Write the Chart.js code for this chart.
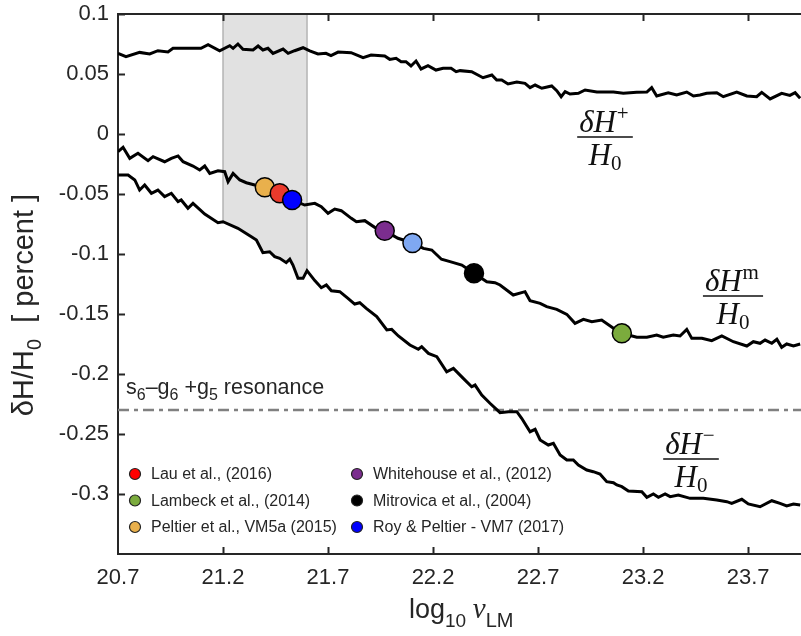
<!DOCTYPE html>
<html>
<head>
<meta charset="utf-8">
<script src="https://cdn.jsdelivr.net/npm/chart.js@4.4.1/dist/chart.umd.min.js"></script>
<style>
  html, body { margin: 0; padding: 0; background: #fff; }
  #wrap { width: 801px; height: 636px; }
</style>
</head>
<body>
<div id="wrap"><canvas id="chart" width="801" height="636"></canvas></div>
<script>
// tick values
const xTicks = [20.7, 21.2, 21.7, 22.2, 22.7, 23.2, 23.7];
const yTicks = [0.1, 0.05, 0, -0.05, -0.1, -0.15, -0.2, -0.25, -0.3];

// dH+/H0 curve
const plusX = [20.700, 20.738, 20.803, 20.851, 20.890, 20.938, 20.962, 21.095, 21.129, 21.184, 21.232, 21.248, 21.271, 21.295,
  21.343, 21.367, 21.390, 21.414, 21.438, 21.486, 21.510, 21.541, 21.581, 21.613, 21.652, 21.690, 21.714, 21.748, 21.810,
  21.867, 21.905, 21.970, 21.994, 22.024, 22.048, 22.071, 22.095, 22.119, 22.143, 22.176, 22.214, 22.248, 22.286, 22.310,
  22.329, 22.384, 22.438, 22.480, 22.503, 22.527, 22.557, 22.599, 22.638, 22.662, 22.686, 22.718, 22.765, 22.789, 22.810,
  22.829, 22.852, 22.892, 22.924, 22.980, 23.059, 23.106, 23.170, 23.218, 23.241, 23.265, 23.320, 23.360, 23.408, 23.440,
  23.471, 23.503, 23.551, 23.582, 23.646, 23.694, 23.741, 23.765, 23.805, 23.860, 23.899, 23.924, 23.948];
const plusY = [0.0672, 0.0644, 0.0680, 0.0667, 0.0694, 0.0683, 0.0714, 0.0714, 0.0744, 0.0694, 0.0736, 0.0714, 0.0750, 0.0706,
  0.0700, 0.0733, 0.0700, 0.0714, 0.0672, 0.0708, 0.0672, 0.0694, 0.0719, 0.0692, 0.0667, 0.0672, 0.0653, 0.0683, 0.0678,
  0.0636, 0.0658, 0.0650, 0.0622, 0.0631, 0.0603, 0.0603, 0.0567, 0.0608, 0.0542, 0.0569, 0.0533, 0.0547, 0.0547, 0.0519,
  0.0528, 0.0519, 0.0469, 0.0492, 0.0450, 0.0450, 0.0417, 0.0433, 0.0422, 0.0386, 0.0408, 0.0381, 0.0400, 0.0361, 0.0311,
  0.0353, 0.0333, 0.0339, 0.0367, 0.0350, 0.0350, 0.0339, 0.0347, 0.0350, 0.0386, 0.0317, 0.0344, 0.0325, 0.0350, 0.0317,
  0.0325, 0.0339, 0.0344, 0.0311, 0.0350, 0.0317, 0.0311, 0.0347, 0.0292, 0.0339, 0.0322, 0.0344, 0.0297];

// dHm/H0 curve
const midX = [20.700, 20.724, 20.756, 20.795, 20.843, 20.867, 20.922, 20.954, 20.986, 21.010, 21.057, 21.089, 21.113, 21.137,
  21.176, 21.208, 21.224, 21.248, 21.280, 21.311, 21.351, 21.399, 21.470, 21.529, 21.589, 21.637, 21.668, 21.700, 21.732,
  21.763, 21.811, 21.835, 21.875, 21.922, 21.970, 22.033, 22.100, 22.154, 22.194, 22.240, 22.281, 22.337, 22.395, 22.456,
  22.495, 22.519, 22.582, 22.638, 22.662, 22.710, 22.741, 22.789, 22.837, 22.876, 22.916, 22.956, 23.003, 23.059, 23.099,
  23.170, 23.218, 23.265, 23.296, 23.344, 23.376, 23.408, 23.432, 23.480, 23.527, 23.575, 23.630, 23.694, 23.725, 23.757,
  23.781, 23.813, 23.837, 23.860, 23.884, 23.916, 23.948];
const midY = [-0.0147, -0.0111, -0.0203, -0.0161, -0.0222, -0.0189, -0.0231, -0.0203, -0.0183, -0.0231, -0.0267, -0.0300,
  -0.0267, -0.0328, -0.0306, -0.0314, -0.0397, -0.0328, -0.0383, -0.0406, -0.0425, -0.0444, -0.0494, -0.0550, -0.0592,
  -0.0578, -0.0606, -0.0661, -0.0625, -0.0639, -0.0703, -0.0731, -0.0722, -0.0778, -0.0806, -0.0869, -0.0906, -0.0953,
  -0.0967, -0.1044, -0.1064, -0.1092, -0.1161, -0.1231, -0.1239, -0.1258, -0.1342, -0.1314, -0.1389, -0.1411, -0.1439,
  -0.1461, -0.1503, -0.1578, -0.1544, -0.1564, -0.1550, -0.1619, -0.1661, -0.1694, -0.1694, -0.1675, -0.1694, -0.1675,
  -0.1683, -0.1628, -0.1703, -0.1703, -0.1722, -0.1683, -0.1731, -0.1767, -0.1731, -0.1744, -0.1717, -0.1744, -0.1711,
  -0.1778, -0.1750, -0.1767, -0.1750];

// dH-/H0 curve
const minusX = [20.700, 20.748, 20.780, 20.803, 20.827, 20.859, 20.890, 20.922, 20.954, 20.986, 21.001, 21.033, 21.057,
  21.113, 21.176, 21.200, 21.271, 21.335, 21.359, 21.390, 21.422, 21.446, 21.470, 21.501, 21.518, 21.533, 21.557, 21.581,
  21.600, 21.637, 21.668, 21.692, 21.716, 21.756, 21.795, 21.827, 21.851, 21.882, 21.932, 21.980, 22.003, 22.035, 22.090,
  22.130, 22.146, 22.178, 22.218, 22.265, 22.297, 22.344, 22.384, 22.400, 22.432, 22.471, 22.519, 22.559, 22.599, 22.622,
  22.662, 22.686, 22.710, 22.749, 22.773, 22.805, 22.837, 22.868, 22.892, 22.932, 22.963, 22.995, 23.027, 23.059, 23.075,
  23.099, 23.130, 23.194, 23.218, 23.249, 23.273, 23.305, 23.329, 23.368, 23.424, 23.487, 23.551, 23.599, 23.622, 23.670,
  23.701, 23.757, 23.813, 23.852, 23.884, 23.916, 23.948];
const minusY = [-0.0342, -0.0342, -0.0383, -0.0467, -0.0425, -0.0494, -0.0467, -0.0522, -0.0494, -0.0564, -0.0550, -0.0619,
  -0.0578, -0.0667, -0.0739, -0.0731, -0.0786, -0.0856, -0.0883, -0.0989, -0.0981, -0.1022, -0.1036, -0.1072, -0.1044,
  -0.1092, -0.1203, -0.1203, -0.1139, -0.1222, -0.1281, -0.1258, -0.1306, -0.1314, -0.1369, -0.1417, -0.1406, -0.1453,
  -0.1522, -0.1633, -0.1628, -0.1683, -0.1758, -0.1794, -0.1772, -0.1828, -0.1856, -0.1981, -0.1953, -0.2036, -0.2106,
  -0.2092, -0.2175, -0.2244, -0.2322, -0.2314, -0.2314, -0.2369, -0.2481, -0.2461, -0.2550, -0.2592, -0.2578, -0.2675,
  -0.2717, -0.2717, -0.2758, -0.2800, -0.2814, -0.2833, -0.2897, -0.2906, -0.2925, -0.2939, -0.2975, -0.2981, -0.3028,
  -0.3000, -0.3028, -0.3000, -0.3022, -0.3008, -0.3036, -0.3036, -0.3050, -0.3064, -0.3078, -0.3044, -0.3083, -0.3106,
  -0.3056, -0.3078, -0.3100, -0.3083, -0.3092];

// study markers on the dHm curve
const markerX = [21.399, 21.470, 21.529, 21.970, 22.102, 22.395, 23.099];
const markerY = [-0.0444, -0.0494, -0.0550, -0.0806, -0.0908, -0.1161, -0.1661];
const markerColors = ['#e9b04c', '#ea3a2c', '#0000ff', '#7b2d8e', '#7fa8f2', '#000000', '#7bab3d'];

// legend
const legendNames = ['Lau et al., (2016)', 'Lambeck et al., (2014)', 'Peltier et al., VM5a (2015)',
  'Whitehouse et al., (2012)', 'Mitrovica et al., (2004)', 'Roy & Peltier - VM7 (2017)'];
const legendColors = ['#ff0000', '#7bab3d', '#e9b04c', '#7b2d8e', '#000000', '#0000ff'];

const resonanceY = -0.23;
const shadeRange = [21.2, 21.6];
const xMin = 20.7, xMax = 23.952, yMin = -0.35, yMax = 0.1;

const pts = (xs, ys) => xs.map((x, i) => ({ x: x, y: ys[i] }));
const shadePts = pts(minusX, minusY).filter(p => p.x >= shadeRange[0] && p.x <= shadeRange[1]);
const edgeL = [{ x: shadeRange[0], y: yMax }, { x: shadeRange[0], y: shadePts[0].y }];
const edgeR = [{ x: shadeRange[1], y: yMax }, { x: shadeRange[1], y: shadePts[shadePts.length - 1].y }];

const INK = '#262626';
const SANS = '"Liberation Sans", Arial, sans-serif';
const SERIF = '"Liberation Serif", "Times New Roman", serif';

// draw text pieces [text, font, dy]
function drawPieces(ctx, x, y, pieces) {
  pieces.forEach(p => {
    ctx.font = p[1];
    ctx.fillText(p[0], x, y + (p[2] || 0));
    x += ctx.measureText(p[0]).width;
  });
}

function drawFrac(ctx, cx, barY, sup) {
  ctx.save();
  ctx.fillStyle = '#111';
  ctx.textBaseline = 'alphabetic';
  const big = 'italic 31px ' + SERIF;
  const small = '21px ' + SERIF;
  ctx.font = big;
  const wNum = ctx.measureText('δH').width;
  ctx.font = small;
  const wSup = ctx.measureText(sup).width;
  const w = wNum + wSup + 3;
  drawPieces(ctx, cx - w / 2, barY - 5, [['δH', big], [' ', '3px ' + SERIF], [sup, small, -12]]);
  ctx.font = big;
  const wH = ctx.measureText('H').width;
  ctx.font = small;
  const w0 = ctx.measureText('0').width;
  drawPieces(ctx, cx - (wH + w0) / 2, barY + 28, [['H', big], ['0', small, 5]]);
  ctx.fillRect(cx - w / 2 - 2, barY - 0.75, w + 4, 1.5);
  ctx.restore();
}

// let the plot run to the right edge of the canvas
const fullRight = {
  id: 'fullRight',
  afterLayout(chart) {
    const s = chart.scales.x;
    const r = chart.width;
    if (s.right !== r) {
      s.right = r;
      s.width = r - s.left;
      s.configure();
      chart.chartArea.right = r;
      chart.chartArea.width = r - chart.chartArea.left;
    }
  }
};

const decor = {
  id: 'decor',
  afterDraw(chart) {
    const { ctx, chartArea: a, scales: { x, y } } = chart;
    ctx.save();
    // top spine + inward ticks
    ctx.strokeStyle = INK;
    ctx.lineWidth = 2;
    ctx.beginPath();
    ctx.moveTo(a.left - 1, a.top);
    ctx.lineTo(a.right, a.top);
    xTicks.forEach(t => {
      const px = Math.round(x.getPixelForValue(t)) + 0.5;
      if (t === xMin) return;
      ctx.moveTo(px, a.bottom); ctx.lineTo(px, a.bottom - 7);
      ctx.moveTo(px, a.top); ctx.lineTo(px, a.top + 7);
    });
    yTicks.forEach(t => {
      const py = Math.round(y.getPixelForValue(t)) + 0.5;
      ctx.moveTo(a.left, py); ctx.lineTo(a.left + 7, py);
    });
    ctx.stroke();

    // resonance label
    ctx.fillStyle = INK;
    ctx.textBaseline = 'alphabetic';
    const f = '21.5px ' + SANS, fs = '16px ' + SANS;
    drawPieces(ctx, 126, 394, [['s', f], ['6', fs, 6], ['\u2013', f], ['g', f], ['6', fs, 6], [' +g', f], ['5', fs, 6], [' resonance', f]]);

    // fractions
    drawFrac(ctx, 605, 137, '+');
    drawFrac(ctx, 733, 296, 'm');
    drawFrac(ctx, 691, 459, '\u2212');

    // legend
    ctx.font = '16px ' + SANS;
    ctx.textBaseline = 'middle';
    legendNames.forEach((name, i) => {
      const cx = i < 3 ? 135 : 357;
      const cy = 474 + (i % 3) * 26.5;
      ctx.beginPath();
      ctx.arc(cx, cy, 5.5, 0, Math.PI * 2);
      ctx.fillStyle = legendColors[i];
      ctx.fill();
      ctx.lineWidth = 1.2;
      ctx.strokeStyle = '#222';
      ctx.stroke();
      ctx.fillStyle = INK;
      ctx.fillText(name, cx + 16, cy + 1);
    });

    // x title
    ctx.textBaseline = 'alphabetic';
    ctx.fillStyle = INK;
    drawPieces(ctx, 409, 618, [['log', '27px ' + SANS], ['10', '19px ' + SANS, 9], [' ', '24px ' + SANS],
      ['\u03bd', 'italic 29px ' + SERIF], ['LM', '20px ' + SANS, 9]]);

    // y title
    ctx.translate(33, 305);
    ctx.rotate(-Math.PI / 2);
    const yf = '29px ' + SANS, ysf = '20px ' + SANS;
    const pieces = [['δH/H', yf], ['0', ysf, 8], ['  [ percent ]', yf]];
    let w = 0;
    pieces.forEach(p => { ctx.font = p[1]; w += ctx.measureText(p[0]).width; });
    drawPieces(ctx, -w / 2, 0, pieces);
    ctx.restore();
  }
};

new Chart(document.getElementById('chart'), {
  type: 'line',
  data: {
    datasets: [
      {
        label: 'markers', data: pts(markerX, markerY), showLine: false, order: 0,
        pointRadius: 9.5, pointHoverRadius: 9.5, pointBorderWidth: 1.5,
        pointBackgroundColor: markerColors, pointBorderColor: '#000'
      },
      { label: 'plus', data: pts(plusX, plusY), borderColor: '#000', borderWidth: 3, pointRadius: 0, order: 1 },
      { label: 'mid', data: pts(midX, midY), borderColor: '#000', borderWidth: 3, pointRadius: 0, order: 1 },
      { label: 'minus', data: pts(minusX, minusY), borderColor: '#000', borderWidth: 3, pointRadius: 0, order: 1 },
      {
        label: 'resonance', data: [{ x: xMin, y: resonanceY }, { x: xMax, y: resonanceY }],
        borderColor: '#808080', borderWidth: 2.5, borderDash: [11, 5, 4, 5], pointRadius: 0, order: 2
      },
      { label: 'edgeL', data: edgeL, borderColor: '#b4b4b4', borderWidth: 1.5, pointRadius: 0, order: 3 },
      { label: 'edgeR', data: edgeR, borderColor: '#b4b4b4', borderWidth: 1.5, pointRadius: 0, order: 3 },
      {
        label: 'shade', data: shadePts, borderWidth: 0, borderColor: 'rgba(0,0,0,0)',
        backgroundColor: '#e1e1e1', fill: 'end', pointRadius: 0, order: 4
      }
    ]
  },
  options: {
    responsive: false,
    animation: false,
    devicePixelRatio: 1,
    layout: { padding: { top: 14, right: 0, left: 0, bottom: 0 } },
    plugins: { legend: { display: false }, tooltip: { enabled: false } },
    scales: {
      x: {
        type: 'linear', min: xMin, max: xMax,
        afterFit: s => { s.height = 82; s.paddingLeft = 0; s.paddingRight = 0; },
        afterBuildTicks: s => { s.ticks = xTicks.map(v => ({ value: v })); },
        grid: { drawOnChartArea: false, drawTicks: false },
        border: { display: true, color: INK, width: 2 },
        ticks: {
          color: INK, padding: 11, maxRotation: 0, autoSkip: false,
          font: { family: SANS, size: 22 },
          callback: v => String(v)
        }
      },
      y: {
        min: yMin, max: yMax,
        afterFit: s => { s.width = 118; s.paddingTop = 0; s.paddingBottom = 0; },
        afterBuildTicks: s => { s.ticks = yTicks.map(v => ({ value: v })); },
        grid: { drawOnChartArea: false, drawTicks: false },
        border: { display: true, color: INK, width: 2 },
        ticks: {
          color: INK, padding: 9, autoSkip: false,
          font: { family: SANS, size: 22 },
          callback: v => String(Math.round(v * 100) / 100)
        }
      }
    }
  },
  plugins: [fullRight, decor]
});
</script>
</body>
</html>
